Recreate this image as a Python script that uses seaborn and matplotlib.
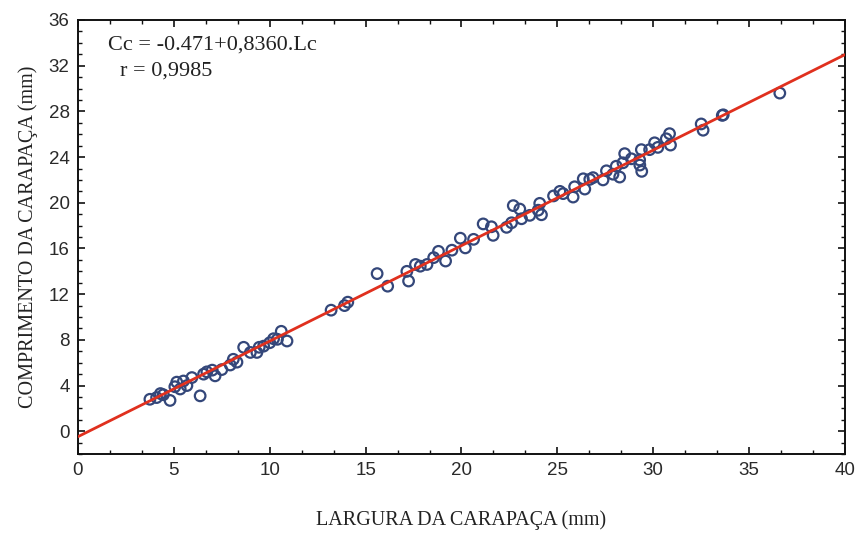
import matplotlib
matplotlib.use("Agg")
import matplotlib.pyplot as plt
from matplotlib.ticker import MultipleLocator
import seaborn as sns
import pandas as pd
import numpy as np

# ---- data ----
largura = [3.75, 4.1, 4.3, 4.45, 4.8, 5.05, 5.15, 5.33, 5.5, 5.68, 5.94, 6.37, 6.55, 6.72,
           7.0, 7.15, 7.5, 7.94, 8.1, 8.29, 8.64, 8.99, 9.33, 9.45, 9.68, 10.0, 10.2, 10.4,
           10.6, 10.9,
           13.2, 13.9, 14.07, 15.6, 16.15, 17.15, 17.24, 17.6, 17.85, 18.2, 18.55, 18.8,
           19.17, 19.5, 19.94, 20.2, 20.63, 21.13, 21.56, 21.65, 22.35, 22.61, 22.7, 23.04,
           23.13, 23.56, 24.0, 24.08, 24.17,
           24.8, 25.13, 25.3, 25.82, 25.9, 26.35, 26.43, 26.69, 26.86, 27.38, 27.56, 27.9,
           28.07, 28.25, 28.42, 28.51, 28.86, 29.29, 29.38, 29.3, 29.4, 29.81, 30.07, 30.24,
           30.68, 30.85, 30.9, 32.5, 32.6, 33.6, 33.65, 36.6]
comprimento = [2.8, 2.95, 3.3, 3.2, 2.7, 3.9, 4.3, 3.7, 4.4, 4.0, 4.7, 3.1, 5.0, 5.2,
               5.35, 4.85, 5.4, 5.8, 6.3, 6.05, 7.35, 6.9, 6.9, 7.35, 7.45, 7.75, 8.1, 8.05,
               8.75, 7.9,
               10.6, 11.0, 11.3, 13.8, 12.7, 14.0, 13.15, 14.6, 14.45, 14.6, 15.2, 15.75,
               14.9, 15.85, 16.9, 16.05, 16.8, 18.15, 17.9, 17.15, 17.85, 18.25, 19.75, 19.45,
               18.6, 18.9, 19.35, 19.95, 18.95,
               20.6, 21.0, 20.8, 20.5, 21.4, 22.1, 21.2, 22.05, 22.2, 22.0, 22.8, 22.5,
               23.2, 22.25, 23.5, 24.3, 23.85, 23.75, 24.65, 23.3, 22.75, 24.65, 25.25, 24.85,
               25.6, 26.05, 25.05, 26.9, 26.35, 27.65, 27.7, 29.6]
intercepto = -0.471
inclinacao = 0.8360
x_reta = [0, 40]
x_ticks = [0, 5, 10, 15, 20, 25, 30, 35, 40]
y_ticks = [0, 4, 8, 12, 16, 20, 24, 28, 32, 36]
eq_texto = "Cc = -0.471+0,8360.Lc"
r_texto = "r = 0,9985"
x_label = "LARGURA DA CARAPAÇA (mm)"
y_label = "COMPRIMENTO DA CARAPAÇA (mm)"

df = pd.DataFrame({"Lc": largura, "Cc": comprimento})
df_reta = pd.DataFrame({"Lc": x_reta,
                        "Cc": [intercepto + inclinacao * v for v in x_reta]})

sns.set_theme(style="white")
plt.rcParams["font.family"] = ["Liberation Sans", "DejaVu Sans"]

fig = plt.figure(figsize=(8.59, 5.33), dpi=100)
ax = fig.add_axes([0.0908, 0.148, 0.8929, 0.8145])

sns.scatterplot(data=df, x="Lc", y="Cc", ax=ax, marker="o", s=58,
                facecolors="none", edgecolor="#34477a", linewidth=1.6, zorder=3)
sns.lineplot(data=df_reta, x="Lc", y="Cc", ax=ax, color="#e0301e", linewidth=2.0, zorder=4)

ax.set_xlim(0, 40)
ax.set_ylim(-2, 36)
ax.set_xticks(x_ticks)
ax.set_yticks(y_ticks)
ax.xaxis.set_minor_locator(MultipleLocator(5 / 3))
ax.yaxis.set_minor_locator(MultipleLocator(1))
ax.tick_params(which="both", direction="in", top=True, right=True, bottom=True, left=True,
               colors="#111111", labelcolor="#2a2a2a")
ax.tick_params(which="major", length=5, width=1.2, labelsize=13.5, pad=6)
ax.tick_params(which="minor", length=3, width=1.0)
for sp in ax.spines.values():
    sp.set_color("#111111")
    sp.set_linewidth(1.4)

ax.set_xlabel(x_label, family="Liberation Serif", fontsize=14.5, color="#222222", labelpad=22)
ax.set_ylabel(y_label, family="Liberation Serif", fontsize=14.5, color="#222222", labelpad=8)

ax.text(1.55, 33.85, eq_texto, family="Liberation Serif", fontsize=16, color="#222222",
        va="center", ha="left")
ax.text(2.2, 31.5, r_texto, family="Liberation Serif", fontsize=16, color="#222222",
        va="center", ha="left")

fig.savefig("out.png", dpi=100)
